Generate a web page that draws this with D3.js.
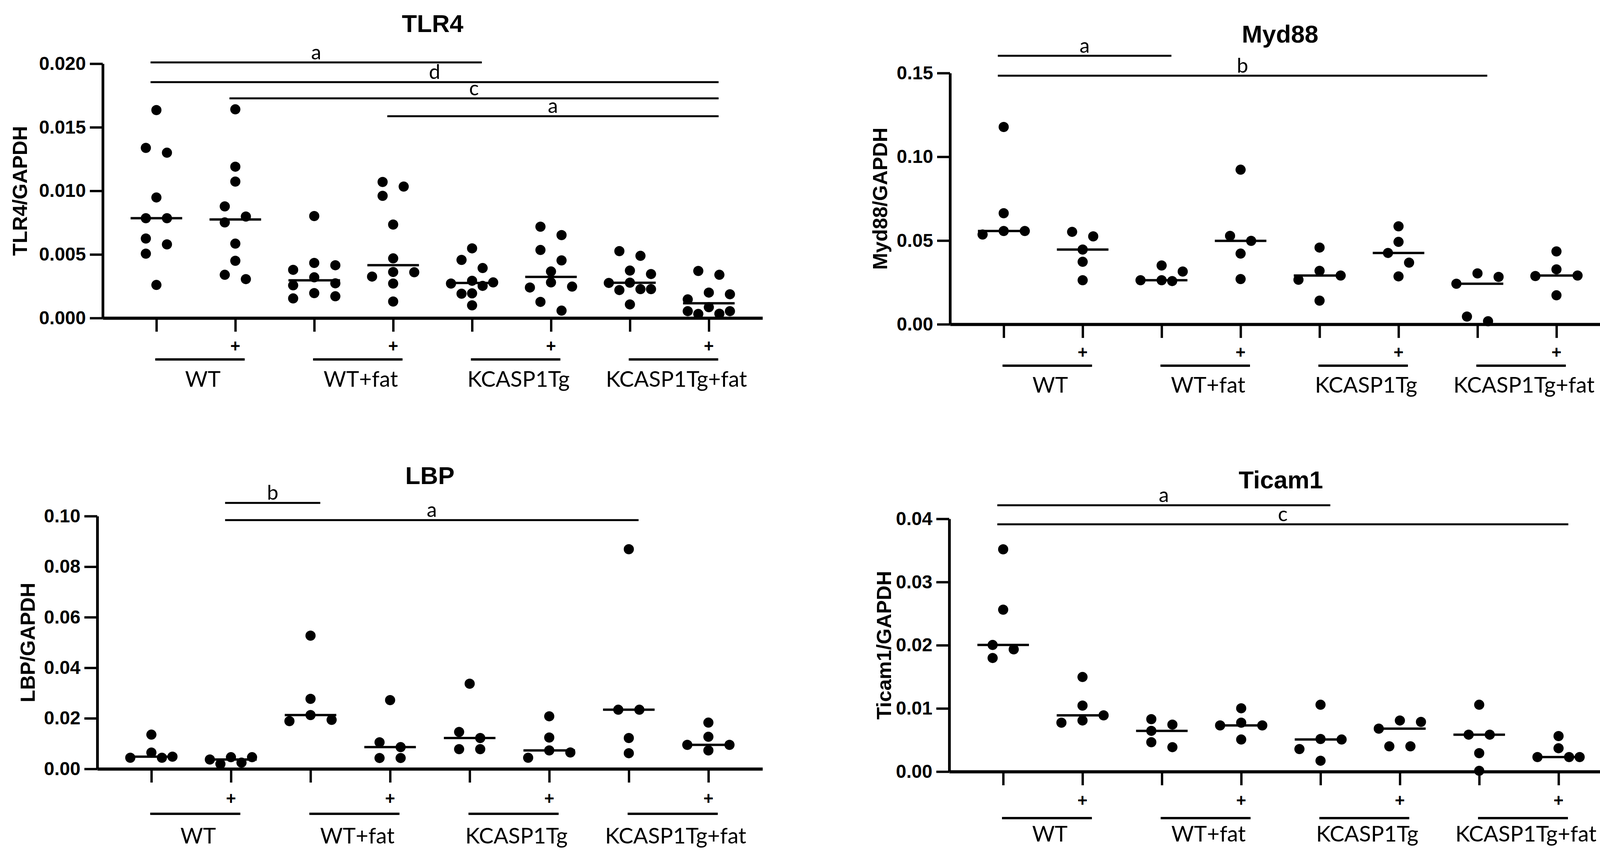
<!DOCTYPE html>
<html>
<head>
<meta charset="utf-8">
<script src="https://cdn.jsdelivr.net/npm/d3@7"></script>
<style>
  html, body { margin: 0; padding: 0; background: #fff; }
  svg { display: block; }
</style>
</head>
<body>
<script>
// ---------------- DATA ----------------
const groupNames = ["WT", "WT+fat", "KCASP1Tg", "KCASP1Tg+fat"];
const treatmentLabels = ["", "+", "", "+", "", "+", "", "+"];

const tlr4Values = [
  [0.01635, 0.01338, 0.0130, 0.00948, 0.00785, 0.00785, 0.00625, 0.00579, 0.00506, 0.0026],
  [0.01641, 0.0119, 0.01073, 0.00878, 0.00798, 0.00752, 0.00585, 0.0045, 0.0034, 0.00306],
  [0.00802, 0.00433, 0.00415, 0.00379, 0.0032, 0.00273, 0.00257, 0.00196, 0.00171, 0.00154],
  [0.0107, 0.01034, 0.00961, 0.00735, 0.00469, 0.00362, 0.0036, 0.00326, 0.00271, 0.0013],
  [0.00548, 0.00457, 0.00393, 0.00293, 0.0028, 0.00271, 0.00253, 0.00194, 0.00191, 0.001],
  [0.00718, 0.00652, 0.00535, 0.00453, 0.00366, 0.0028, 0.00247, 0.0024, 0.00127, 0.00058],
  [0.00526, 0.00489, 0.00373, 0.00346, 0.00278, 0.00276, 0.00227, 0.00227, 0.0022, 0.00107],
  [0.0037, 0.0034, 0.002, 0.00187, 0.00147, 0.00085, 0.00054, 0.00054, 0.00034, 0.00032]
];
const myd88Values = [
  [0.1178, 0.0663, 0.0557, 0.0557, 0.0536],
  [0.0552, 0.0525, 0.0446, 0.0373, 0.0263],
  [0.0351, 0.0315, 0.0263, 0.0263, 0.0258],
  [0.0923, 0.0528, 0.0498, 0.0422, 0.027],
  [0.0458, 0.0319, 0.0291, 0.0266, 0.0141],
  [0.0585, 0.0492, 0.0426, 0.0368, 0.0286],
  [0.0304, 0.0283, 0.0242, 0.0046, 0.0018],
  [0.0435, 0.0328, 0.0291, 0.0288, 0.0173]
];
const lbpValues = [
  [0.01355, 0.00645, 0.00484, 0.0044, 0.0044],
  [0.00462, 0.00462, 0.0037, 0.00247, 0.00194],
  [0.0527, 0.0277, 0.0213, 0.0194, 0.0189],
  [0.0272, 0.0105, 0.0086, 0.0043, 0.0043],
  [0.0337, 0.0146, 0.0122, 0.0078, 0.0078],
  [0.0208, 0.0124, 0.0073, 0.0065, 0.0044],
  [0.0869, 0.0234, 0.0234, 0.0122, 0.0062],
  [0.0183, 0.0127, 0.0095, 0.0095, 0.0073]
];
const ticam1Values = [
  [0.03518, 0.02563, 0.02004, 0.01935, 0.01798],
  [0.01497, 0.01045, 0.0089, 0.00809, 0.00774],
  [0.0083, 0.00744, 0.00645, 0.00465, 0.00387],
  [0.01002, 0.00774, 0.00731, 0.00731, 0.00508],
  [0.01058, 0.00516, 0.00508, 0.00357, 0.00172],
  [0.00809, 0.00787, 0.0068, 0.004, 0.004],
  [0.01058, 0.00585, 0.00585, 0.00292, 0.00013],
  [0.00563, 0.0037, 0.0023, 0.0023, 0.0023]
];

const tlr4Ticks = [0, 0.005, 0.010, 0.015, 0.020];
const myd88Ticks = [0, 0.05, 0.10, 0.15];
const lbpTicks = [0, 0.02, 0.04, 0.06, 0.08, 0.10];
const ticam1Ticks = [0, 0.01, 0.02, 0.03, 0.04];

// significance bars: from group, to group, level (data units), letter
const tlr4Sig = [
  { from: 0, to: 4, level: 0.0201, label: "a" },
  { from: 0, to: 7, level: 0.01855, label: "d" },
  { from: 1, to: 7, level: 0.01727, label: "c" },
  { from: 3, to: 7, level: 0.01587, label: "a" }
];
const myd88Sig = [
  { from: 0, to: 2, level: 0.1603, label: "a" },
  { from: 0, to: 6, level: 0.1484, label: "b" }
];
const lbpSig = [
  { from: 1, to: 2, level: 0.1052, label: "b" },
  { from: 1, to: 6, level: 0.0984, label: "a" }
];
const ticam1Sig = [
  { from: 0, to: 4, level: 0.04215, label: "a" },
  { from: 0, to: 7, level: 0.03914, label: "c" }
];

// ---------------- LAYOUT ----------------
const W = 4172, H = 2191;
const panels = [
  { title: "TLR4", ylabel: "TLR4/GAPDH", values: tlr4Values, ticks: tlr4Ticks, fmt: ".3f", sig: tlr4Sig,
    L: { left: 263, right: 1952, top: 163, bottom: 814, titleY: 82, ylabOff: -213, plusDy: 71, lineDy: 106, labelDy: 176 } },
  { title: "Myd88", ylabel: "Myd88/GAPDH", values: myd88Values, ticks: myd88Ticks, fmt: ".2f", sig: myd88Sig,
    L: { left: 2432, right: 4122, top: 187, bottom: 830, titleY: 109, ylabOff: -180, plusDy: 71, lineDy: 106, labelDy: 175 } },
  { title: "LBP", ylabel: "LBP/GAPDH", values: lbpValues, ticks: lbpTicks, fmt: ".2f", sig: lbpSig,
    L: { left: 249, right: 1952, top: 1321, bottom: 1968, titleY: 1239, ylabOff: -179, plusDy: 75, lineDy: 115, labelDy: 191 } },
  { title: "Ticam1", ylabel: "Ticam1/GAPDH", values: ticam1Values, ticks: ticam1Ticks, fmt: ".2f", sig: ticam1Sig,
    L: { left: 2430, right: 4128, top: 1328, bottom: 1975, titleY: 1250, ylabOff: -168, plusDy: 73, lineDy: 119, labelDy: 179 } }
];

const BOLD = "'Liberation Sans', Arial, Helvetica, sans-serif";
const LIGHT = "Lato, 'Open Sans', 'Liberation Sans', sans-serif";
const R = 13;        // dot radius
const HSTEP = 27;    // swarm horizontal step
const DY = 27;       // vertical proximity threshold

// beeswarm layout similar to Prism's scatter arrangement
function swarm(ys) {
  const idx = d3.range(ys.length).sort((a, b) => ys[a] - ys[b]);
  const placed = [];
  const xs = new Array(ys.length).fill(0);
  for (const i of idx) {
    const y = ys[i];
    let chosen = null;
    for (const c of [0, 2 * HSTEP, -2 * HSTEP]) {
      const blocked = placed.some(p => Math.abs(p.y - y) < DY && Math.abs(p.x - c) < 2 * HSTEP - 0.5);
      if (!blocked) { chosen = c; break; }
    }
    if (chosen === null) {
      for (let k = 0; k < 12 && chosen === null; k++) {
        const cands = k === 0 ? [0] : [k * HSTEP, -k * HSTEP];
        for (const c of cands) {
          const blocked = placed.some(p => Math.hypot(p.x - c, p.y - y) < HSTEP - 0.5);
          if (!blocked) { chosen = c; break; }
        }
      }
    }
    xs[i] = chosen;
    placed.push({ x: chosen, y });
  }
  // centre each vertically-connected cluster
  let cluster = [];
  const flush = () => {
    if (!cluster.length) return;
    const mn = d3.min(cluster, i => xs[i]), mx = d3.max(cluster, i => xs[i]);
    const shift = -(mn + mx) / 2;
    cluster.forEach(i => xs[i] += shift);
    cluster = [];
  };
  idx.forEach((i, k) => {
    if (k > 0 && ys[i] - ys[idx[k - 1]] >= DY) flush();
    cluster.push(i);
  });
  flush();
  return xs;
}

const svg = d3.select("body").append("svg")
  .attr("width", W).attr("height", H)
  .attr("viewBox", `0 0 ${W} ${H}`);
svg.append("rect").attr("width", W).attr("height", H).attr("fill", "#fff");

panels.forEach(P => {
  const L = P.L;
  const g = svg.append("g");
  const x = d3.scalePoint().domain(d3.range(8)).range([L.left, L.right]).padding(0.68);
  const ymax = d3.max(P.ticks);
  const y = d3.scaleLinear().domain([0, ymax]).range([L.bottom, L.top]);

  // title
  g.append("text")
    .attr("x", (L.left + L.right) / 2).attr("y", L.titleY)
    .attr("text-anchor", "middle")
    .style("font-family", BOLD).style("font-weight", "bold").style("font-size", "63px")
    .text(P.title);

  // y label
  g.append("text")
    .attr("transform", `translate(${L.left + L.ylabOff},${(L.top + L.bottom) / 2}) rotate(-90)`)
    .attr("text-anchor", "middle").attr("dy", "0.36em")
    .style("font-family", BOLD).style("font-weight", "bold").style("font-size", "52px")
    .text(P.ylabel);

  // y axis
  const ya = g.append("g").attr("transform", `translate(${L.left},0)`)
    .call(d3.axisLeft(y).tickValues(P.ticks).tickFormat(d3.format(P.fmt))
      .tickSize(33).tickSizeOuter(0).tickPadding(10));
  ya.select(".domain").attr("stroke", "#000").attr("stroke-width", 7);
  ya.selectAll(".tick line").attr("stroke", "#000").attr("stroke-width", 6);
  ya.selectAll(".tick text")
    .style("font-family", BOLD).style("font-weight", "bold").style("font-size", "48px").attr("fill", "#000");

  // x axis
  const xa = g.append("g").attr("transform", `translate(0,${L.bottom})`)
    .call(d3.axisBottom(x).tickSize(35).tickSizeOuter(0).tickFormat(""));
  xa.select(".domain").attr("stroke", "#000").attr("stroke-width", 8);
  xa.selectAll(".tick line").attr("stroke", "#000").attr("stroke-width", 6);

  // treatment "+" labels
  g.selectAll("text.plus").data(treatmentLabels).enter().append("text")
    .attr("class", "plus")
    .attr("x", (d, i) => x(i)).attr("y", L.bottom + L.plusDy).attr("dy", "0.36em")
    .attr("text-anchor", "middle")
    .style("font-family", BOLD).style("font-weight", "bold").style("font-size", "44px")
    .text(d => d);

  // group underline + names
  groupNames.forEach((name, k) => {
    const x0 = x(2 * k), x1 = x(2 * k + 1);
    g.append("line")
      .attr("x1", x0 - 3).attr("x2", x1 + 24)
      .attr("y1", L.bottom + L.lineDy).attr("y2", L.bottom + L.lineDy)
      .attr("stroke", "#000").attr("stroke-width", 6);
    g.append("text")
      .attr("x", (x0 + x1) / 2 + 18).attr("y", L.bottom + L.labelDy)
      .attr("text-anchor", "middle")
      .style("font-family", LIGHT).style("font-size", "56px")
      .text(name);
  });

  // significance bars
  P.sig.forEach(s => {
    const xa0 = x(s.from) - 15, xa1 = x(s.to) + 25, yy = y(s.level);
    g.append("line").attr("x1", xa0).attr("x2", xa1).attr("y1", yy).attr("y2", yy)
      .attr("stroke", "#000").attr("stroke-width", 5);
    g.append("text").attr("x", (xa0 + xa1) / 2).attr("y", yy - 8)
      .attr("text-anchor", "middle")
      .style("font-family", LIGHT).style("font-size", "52px")
      .text(s.label);
  });

  // dots + median
  P.values.forEach((vals, gi) => {
    const ys = vals.map(v => y(v));
    const xs = swarm(ys);
    g.append("g").selectAll("circle").data(vals).enter().append("circle")
      .attr("cx", (d, i) => x(gi) + xs[i])
      .attr("cy", d => y(d))
      .attr("r", R).attr("fill", "#000");
    const med = d3.median(vals);
    g.append("line")
      .attr("x1", x(gi) - 66).attr("x2", x(gi) + 66)
      .attr("y1", y(med)).attr("y2", y(med))
      .attr("stroke", "#000").attr("stroke-width", 6);
  });
});
</script>
</body>
</html>
